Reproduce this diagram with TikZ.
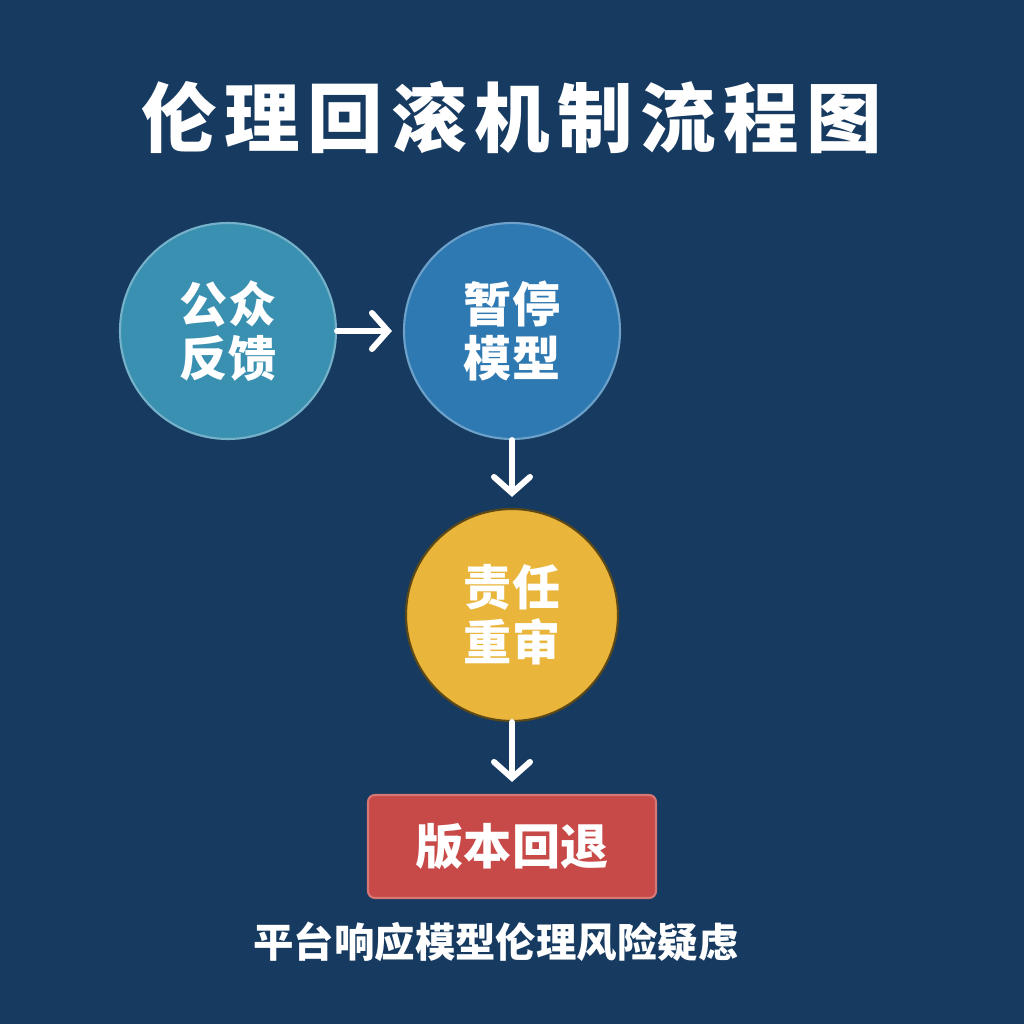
\documentclass[tikz,border=0pt]{standalone}
\usepackage{fontspec}
\newfontfamily\cjk{Noto Sans CJK SC}
\usepackage{tikz}
\usetikzlibrary{arrows.meta, positioning}
\definecolor{bgnavy}{HTML}{163A60}
\definecolor{feedteal}{HTML}{3A90B0}
\definecolor{pauseblue}{HTML}{2E79B2}
\definecolor{reviewgold}{HTML}{E9B53B}
\definecolor{rollred}{HTML}{C84A48}

\begin{document}
\begin{tikzpicture}[
  stage/.style={
    circle,
    draw=white!30!#1,
    line width=0.6pt,
    fill=#1,
    minimum size=2.16cm,
    inner sep=0pt,
    align=center,
    text=white,
    font=\cjk\bfseries\fontsize{13.7}{15.6}\selectfont
  },
  finalbox/.style={
    draw=white!25!rollred,
    line width=0.6pt,
    rounded corners=2pt,
    fill=rollred,
    minimum width=2.88cm,
    minimum height=1.03cm,
    align=center,
    text=white,
    font=\cjk\bfseries\fontsize{13.7}{15.6}\selectfont
  },
  arrow/.style={-{Straight Barb[length=1.6mm, width=3.6mm, line cap=round]},
    line width=1.7pt, draw=white, line cap=round}
]
  \fill[bgnavy] (0,0) rectangle (10.24,10.24);
  \useasboundingbox (0,0) rectangle (10.24,10.24);

  \node[text=white, font=\cjk\bfseries\fontsize{21.5}{26}\selectfont\addfontfeature{LetterSpace=10}] (title) at (5.12,9.07) {伦理回滚机制流程图};

  \node[stage=feedteal] (feedback) at (2.28,6.93) {公众\\反馈};
  \node[stage=pauseblue] (pause) at (5.12,6.93) {暂停\\模型};
  \node[stage=reviewgold, minimum size=2.12cm, draw=black!60!reviewgold] (review) at (5.12,4.09) {责任\\重审};
  \node[finalbox] (rollback) at (5.12,1.775) {版本回退};

  \draw[arrow, shorten >=0.11cm] (feedback) -- (pause);
  \draw[arrow, shorten >=0.11cm] (pause) -- (review);
  \draw[arrow, shorten >=0.12cm] (review) -- (rollback);

  \node[text=white, font=\cjk\bfseries\fontsize{11.5}{14}\selectfont] (caption) at (4.96,0.82) {平台响应模型伦理风险疑虑};
\end{tikzpicture}
\end{document}
